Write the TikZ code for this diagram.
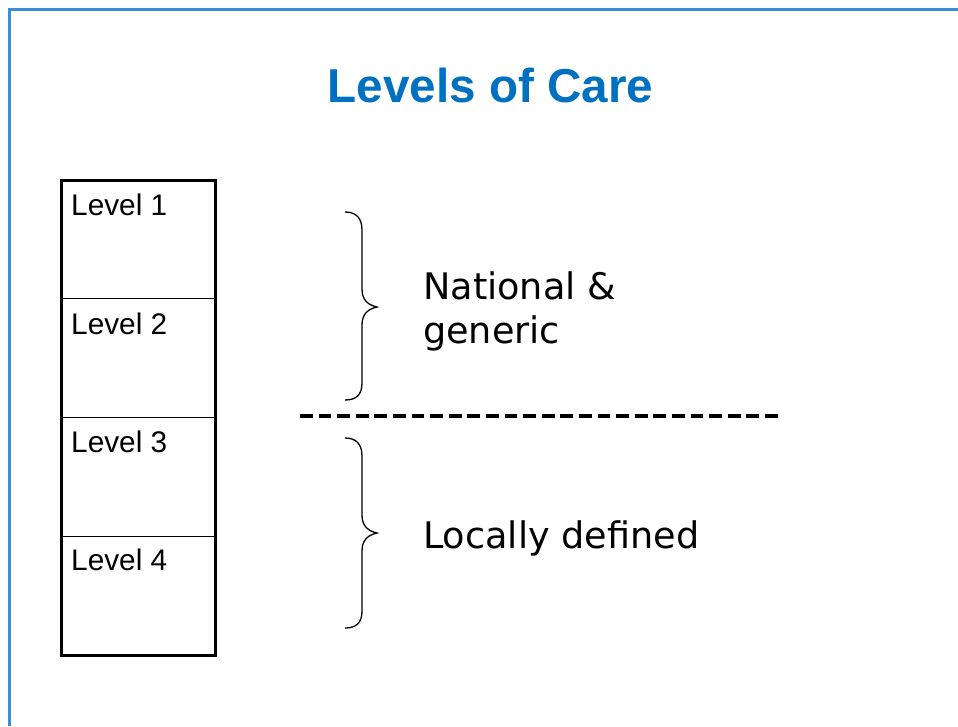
\documentclass[tikz,border=0pt]{standalone}
\usepackage{fontspec}
\setmainfont{Liberation Sans}
\newfontfamily\verd{DejaVu Sans}
\definecolor{titleblue}{RGB}{0,112,192}
\definecolor{frameblue}{RGB}{58,142,214}
\begin{document}
\begin{tikzpicture}[x=1pt,y=-1pt,
  cellbox/.style={draw=black,line width=1pt,minimum width=154pt,minimum height=118.75pt,anchor=north west,inner sep=0pt,outer sep=0pt},
  lvl/.style={anchor=base west,inner sep=0pt,font=\fontsize{29.8}{34}\selectfont},
  side/.style={anchor=base west,inner sep=0pt,align=left,font=\verd\fontsize{36.6}{44}\selectfont},
  bracepath/.style={draw=black,line width=1.3pt},
  divider/.style={draw=black,line width=3.2pt,dash pattern=on 12.7pt off 5.9pt}]
\useasboundingbox (0,0) rectangle (958,726);
\fill[white] (0,0) rectangle (958,726);
\draw[frameblue,line width=2.2pt] (9.5,726) -- (9.5,9.5) -- (958,9.5);
\node[anchor=base,inner sep=0pt,text=titleblue,font=\bfseries\fontsize{47.6}{52}\selectfont] (title) at (490.5,102) {Levels of Care};
\node[cellbox] (c1) at (61,180) {};
\node[cellbox] (c2) at (61,298.75) {};
\node[cellbox] (c3) at (61,417.5) {};
\node[cellbox] (c4) at (61,536.25) {};
\draw[line width=3pt] (c1.north west) rectangle (c4.south east);
\node[lvl] (l1) at (71,215) {Level 1};
\node[lvl] (l2) at (71,334) {Level 2};
\node[lvl] (l3) at (71,452) {Level 3};
\node[lvl] (l4) at (71,570) {Level 4};
\node[side] (nat) at (423,343) {National \&\\generic};
\node[side] (loc) at (423,548) {Locally defined};
\coordinate (d1) at (300,416);
\coordinate (d2) at (778,416);
\draw[divider] (d1) -- (d2);
\path[bracepath] (345,212) .. controls (356,212) and (362,218) .. (362,230) -- (362,289) .. controls (362,300) and (368,305) .. (377,307) .. controls (368,309) and (362,314) .. (362,325) -- (362,383) .. controls (362,395) and (356,400) .. (345,400);
\path[bracepath] (345,438) .. controls (356,438) and (362,444) .. (362,456) -- (362,515) .. controls (362,526) and (368,531) .. (377,533) .. controls (368,535) and (362,540) .. (362,551) -- (362,611) .. controls (362,623) and (356,628) .. (345,628);
\end{tikzpicture}
\end{document}
